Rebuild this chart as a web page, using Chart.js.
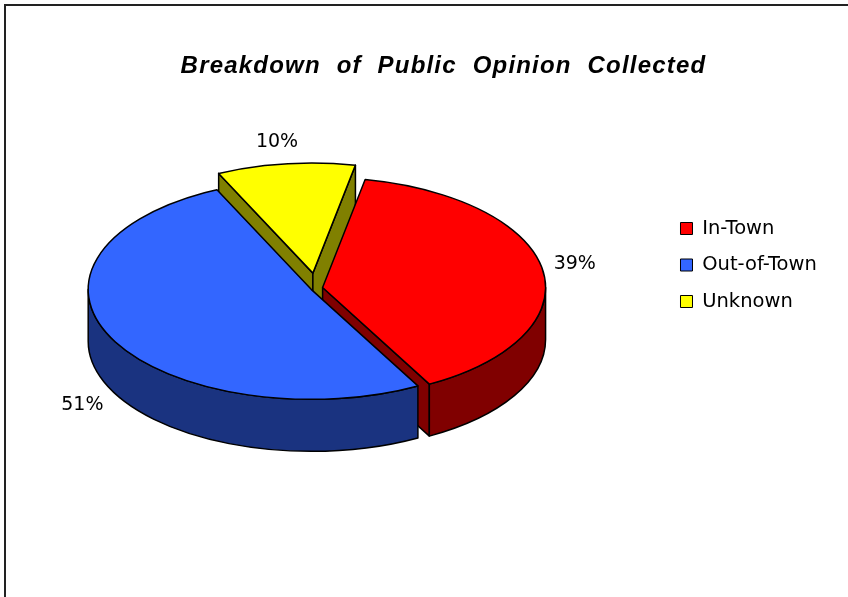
<!DOCTYPE html>
<html>
<head>
<meta charset="utf-8">
<title>Breakdown of Public Opinion Collected</title>
<script src="https://cdn.jsdelivr.net/npm/chart.js@4.4.1/dist/chart.umd.min.js"></script>
<style>
  html, body { margin: 0; padding: 0; background: #fff; }
  #wrap { position: relative; width: 848px; height: 597px; overflow: hidden; }
  #wrap canvas { position: absolute; left: 0; top: 0; }
  #frame { position: absolute; left: 4px; top: 4px; width: 860px; height: 620px;
           border-top: 2px solid #222; border-left: 2px solid #222; }
</style>
</head>
<body>
<div id="wrap">
  <canvas id="pie-chartcanvas" width="848" height="597"></canvas>
  <div id="frame"></div>
</div>
<script>
// values
var categories = ["In-Town", "Out-of-Town", "Unknown"];
var opinionShare = [39, 51, 10];

// look of the fake 3d pie
var STRETCH = 2.027;  // horizontal radius / vertical radius
var DEPTH = 52;       // height of the pie wall, px
var sideColors = ["#800000", "#1A3380", "#808000"];

var pie3d = {
  id: "pie3d",
  beforeInit: function(chart) {
    // empty box between the plot and the legend, pushes the pie to the left
    var gap = {
      position: "right", weight: 0, fullSize: false, options: {},
      width: 0, height: 0, top: 0, bottom: 0, left: 0, right: 0,
      isHorizontal: function() { return false; },
      update: function(maxWidth, maxHeight) { this.width = 90.5; this.height = maxHeight; },
      draw: function() {}
    };
    Chart.layouts.addBox(chart, gap);
  },
  beforeDraw: function(chart) {
    var tb = chart.titleBlock;
    if (tb && !tb._spaced) {
      var base = tb.draw;
      tb.draw = function() {
        var ctx = chart.ctx;
        ctx.save();
        ctx.letterSpacing = "1.2px";
        ctx.wordSpacing = "8px";
        base.apply(tb, arguments);
        ctx.restore();
      };
      tb._spaced = true;
    }
  },
  beforeDatasetsDraw: function(chart) {
    var ctx = chart.ctx;
    var meta = chart.getDatasetMeta(0);
    var values = chart.data.datasets[0].data;
    var total = values.reduce(function(a, b) { return a + b; }, 0);

    var slices = meta.data.map(function(arc, i) {
      var mid = (arc.startAngle + arc.endAngle) / 2;
      var ry = arc.outerRadius, rx = ry * STRETCH;
      var off = arc.options.offset || 0;
      return {
        i: i, a0: arc.startAngle, a1: arc.endAngle, mid: mid, rx: rx, ry: ry,
        cx: arc.x + off * Math.cos(mid) * STRETCH,
        cy: arc.y + off * Math.sin(mid),
        top: arc.options.backgroundColor, side: sideColors[i]
      };
    });

    ctx.save();
    ctx.lineWidth = 1.5;
    ctx.lineJoin = "round";
    ctx.strokeStyle = "#000";

    function paint(color) { ctx.fillStyle = color; ctx.fill(); ctx.stroke(); }

    function wall(s, lo, hi) {
      ctx.beginPath();
      ctx.ellipse(s.cx, s.cy, s.rx, s.ry, 0, lo, hi, false);
      ctx.lineTo(s.cx + s.rx * Math.cos(hi), s.cy + s.ry * Math.sin(hi) + DEPTH);
      ctx.ellipse(s.cx, s.cy + DEPTH, s.rx, s.ry, 0, hi, lo, true);
      ctx.closePath();
      paint(s.side);
    }

    function cut(s, a) {
      var px = s.cx + s.rx * Math.cos(a), py = s.cy + s.ry * Math.sin(a);
      ctx.beginPath();
      ctx.moveTo(s.cx, s.cy);
      ctx.lineTo(px, py);
      ctx.lineTo(px, py + DEPTH);
      ctx.lineTo(s.cx, s.cy + DEPTH);
      ctx.closePath();
      paint(s.side);
    }

    // back slices first
    var order = slices.slice().sort(function(a, b) { return Math.sin(a.mid) - Math.sin(b.mid); });
    order.forEach(function(s) {
      if (Math.cos(s.a0) < 0) cut(s, s.a0);
      if (Math.cos(s.a1) > 0) cut(s, s.a1);
      for (var k = -1; k <= 2; k++) {
        var lo = Math.max(s.a0, 2 * Math.PI * k);
        var hi = Math.min(s.a1, 2 * Math.PI * k + Math.PI);
        if (lo < hi) wall(s, lo, hi);
      }
      ctx.beginPath();
      ctx.moveTo(s.cx, s.cy);
      ctx.ellipse(s.cx, s.cy, s.rx, s.ry, 0, s.a0, s.a1, false);
      ctx.closePath();
      paint(s.top);
    });

    // percent labels outside the slices
    ctx.fillStyle = "#000";
    ctx.font = "19px 'DejaVu Sans'";
    ctx.textAlign = "left";
    ctx.textBaseline = "alphabetic";
    slices.forEach(function(s) {
      var c = Math.cos(s.mid), n = Math.sin(s.mid);
      var txt = Math.round(values[s.i] / total * 100) + "%";
      var w = ctx.measureText(txt).width;
      var px = s.cx + s.rx * c;
      var py = s.cy + s.ry * n + (n > 0 ? DEPTH : 0);
      var lean = (1 - (c < 0 ? -1 : 1) * Math.sqrt(Math.abs(c))) / 2;
      var x = px + 11 * c - w * lean;
      var y = n < 0 ? py + 19 * n + 1.5 : py + 11 * n + 14;
      ctx.fillText(txt, x, y);
    });
    ctx.restore();
    return false;
  }
};

var ctx = document.getElementById("pie-chartcanvas");
var chart = new Chart(ctx, {
  type: "pie",
  data: {
    labels: categories,
    datasets: [{
      data: opinionShare,
      backgroundColor: ["#FF0000", "#3366FF", "#FFFF00"],
      borderColor: "#000",
      borderWidth: 1,
      offset: [3, 3, 15],
      radius: 110
    }]
  },
  options: {
    responsive: false,
    animation: false,
    events: [],
    rotation: 11,
    layout: { padding: { top: 34.4, bottom: 101.4, left: 60.2, right: 21.2 } },
    plugins: {
      title: {
        display: true,
        text: "Breakdown of Public Opinion Collected",
        color: "#000",
        font: { family: "'Liberation Sans'", size: 24, weight: "bold", style: "italic", lineHeight: 1.2 },
        padding: { top: 17.2, bottom: 0 }
      },
      legend: {
        display: true,
        position: "right",
        align: "center",
        labels: {
          color: "#000",
          boxWidth: 12,
          boxHeight: 12,
          padding: 17,
          font: { family: "'DejaVu Sans'", size: 19.5 }
        }
      },
      tooltip: { enabled: false }
    }
  },
  plugins: [pie3d]
});
</script>
</body>
</html>
